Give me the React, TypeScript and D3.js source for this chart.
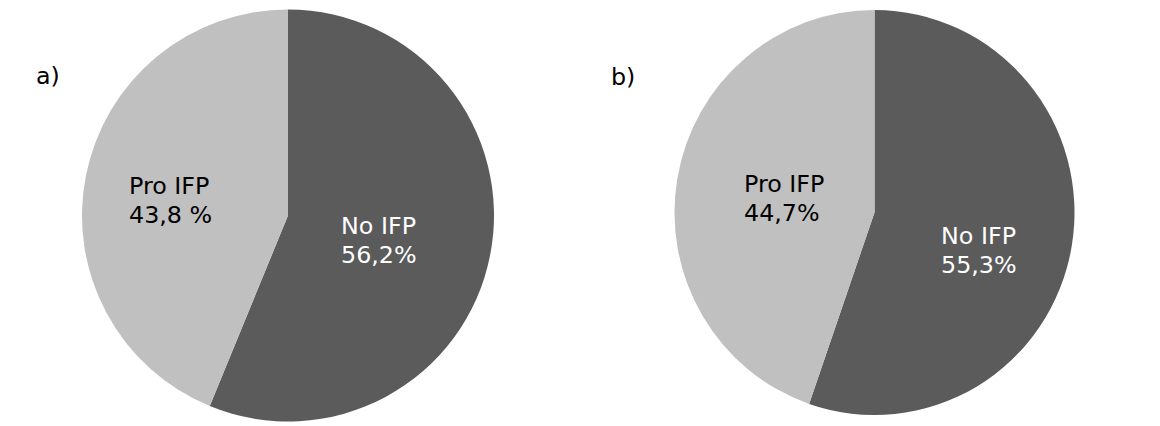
import React from "react";
import * as d3 from "d3";

const categories = ["No IFP", "Pro IFP"];
const panelLabels = ["a)", "b)"];
const valuesA = [56.2, 43.8];
const valuesB = [55.3, 44.7];
const pctLabelsA = ["56,2%", "43,8 %"];
const pctLabelsB = ["55,3%", "44,7%"];

const COLORS = ["#5b5b5b", "#c0c0c0"];
const TEXT_COLORS = ["#ffffff", "#000000"];

const W = 1160;
const H = 426;
const FONT = "'DejaVu Sans', Verdana, sans-serif";
const FS = 23.8;

const panels = [
  {
    values: valuesA,
    pct: pctLabelsA,
    label: panelLabels[0],
    cx: 288,
    cy: 215.5,
    rx: 206,
    ry: 206,
    labelPos: [36, 84],
    textPos: [
      [341, 234],
      [129, 194],
    ],
  },
  {
    values: valuesB,
    pct: pctLabelsB,
    label: panelLabels[1],
    cx: 874.5,
    cy: 212.5,
    rx: 200,
    ry: 202.5,
    labelPos: [611, 85],
    textPos: [
      [941, 244],
      [744, 192],
    ],
  },
];

export default function App() {
  const pie = d3.pie<number>().sort(null).value((d) => d);
  const LINE = 29;
  return (
    <svg
      width={W}
      height={H}
      style={{ position: "absolute", left: 0, top: 0, background: "#fff" }}
    >
      {panels.map((p, pi) => {
        const R = p.ry;
        const arc = d3.arc<d3.PieArcDatum<number>>().innerRadius(0).outerRadius(R);
        const arcs = pie(p.values);
        return (
          <g key={pi}>
            <g transform={`translate(${p.cx},${p.cy}) scale(${p.rx / R},1)`}>
              {arcs.map((a, i) => (
                <path key={i} d={arc(a) || ""} fill={COLORS[i]} />
              ))}
            </g>
            <text
              x={p.labelPos[0]}
              y={p.labelPos[1]}
              fontFamily={FONT}
              fontSize={FS}
              fill="#000"
            >
              {p.label}
            </text>
            {categories.map((c, i) => (
              <text
                key={c}
                x={p.textPos[i][0]}
                y={p.textPos[i][1]}
                fontFamily={FONT}
                fontSize={FS}
                fill={TEXT_COLORS[i]}
              >
                <tspan x={p.textPos[i][0]}>{c}</tspan>
                <tspan x={p.textPos[i][0]} dy={LINE}>
                  {p.pct[i]}
                </tspan>
              </text>
            ))}
          </g>
        );
      })}
    </svg>
  );
}
